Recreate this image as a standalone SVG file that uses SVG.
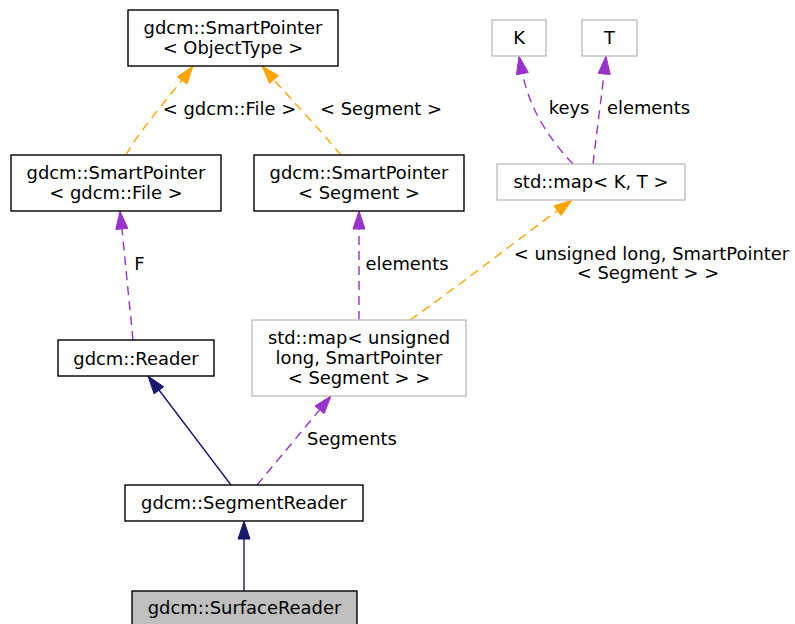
<svg xmlns="http://www.w3.org/2000/svg" width="795" height="624" viewBox="0 0 795 624">
<style>
text{font-family:"DejaVu Sans","Liberation Sans",sans-serif;font-size:17.9px;fill:#000;text-anchor:middle}
.n{fill:#fff;stroke:#000;stroke-width:1.4}
.g{fill:#fff;stroke:#bfbfbf;stroke-width:1.4}
.cur{fill:#bfbfbf;stroke:#000;stroke-width:1.4}
.e{fill:none;stroke-width:1.4}
.o{stroke:#ffa500;stroke-dasharray:9,6}
.p{stroke:#9a32cd;stroke-dasharray:9,6}
.b{stroke:#191970}
.ho{fill:#ffa500;stroke:#ffa500}
.hp{fill:#9a32cd;stroke:#9a32cd}
.hb{fill:#191970;stroke:#191970}
</style>
<rect width="795" height="624" fill="#fff"/>
<g id="connectors">
<path class="e o" d="M126,155 C140,130 165,102 182,80"/>
<polygon class="ho" points="193,66 187,84 177.4,76.8"/>
<text x="229.5" y="115">&lt; gdcm::File &gt;</text>
<path class="e o" d="M341,155 C320,130 292,100 274,80"/>
<polygon class="ho" points="262,66 278.5,75.5 269.5,83.5"/>
<text x="381" y="115">&lt; Segment &gt;</text>
<path class="e p" d="M133,340 C129,300 125,260 122,229"/>
<polygon class="hp" points="120,211 127.8,228.3 115.8,229.5"/>
<text x="139.5" y="270">F</text>
<path class="e p" d="M359,320 L359,229"/>
<polygon class="hp" points="359,211 365,229 353,229"/>
<text x="407" y="270">elements</text>
<path class="e o" d="M410,320 C460,285 520,238 557,211"/>
<polygon class="ho" points="572,200 561.1,215.5 553.9,205.9"/>
<text x="651.5" y="260">&lt; unsigned long, SmartPointer</text>
<text x="648" y="279">&lt; Segment &gt; &gt;</text>
<path class="e p" d="M573,164 C550,140 530,110 522.5,74"/>
<polygon class="hp" points="519,56 528.3,72.5 516.5,74.7"/>
<text x="569" y="114">keys</text>
<path class="e p" d="M593,164 C597,130 601,100 604,74"/>
<polygon class="hp" points="606,56 610.2,74.5 598.2,73.3"/>
<text x="648.5" y="114">elements</text>
<path class="e b" d="M231,485 L159,390"/>
<polygon class="hb" points="148,376 163.7,386.7 154.1,393.9"/>
<path class="e p" d="M257,485 L319.5,410"/>
<polygon class="hp" points="331,396 324.1,413.6 314.9,406"/>
<text x="352" y="445">Segments</text>
<path class="e b" d="M244,591 L244,539"/>
<polygon class="hb" points="244,521 250,539 238,539"/>
</g>
<g id="node_objecttype"><rect class="n" x="128" y="10" width="210" height="56"/><text x="233" y="34">gdcm::SmartPointer</text><text x="233" y="54">&lt; ObjectType &gt;</text></g>
<g id="node_sp_file"><rect class="n" x="11" y="155" width="210" height="56"/><text x="116" y="179">gdcm::SmartPointer</text><text x="116" y="199">&lt; gdcm::File &gt;</text></g>
<g id="node_sp_segment"><rect class="n" x="254" y="155" width="210" height="56"/><text x="359" y="179">gdcm::SmartPointer</text><text x="359" y="199">&lt; Segment &gt;</text></g>
<g id="node_k"><rect class="g" x="492" y="20" width="54" height="36"/><text x="519" y="44">K</text></g>
<g id="node_t"><rect class="g" x="582" y="20" width="55" height="36"/><text x="609.5" y="44">T</text></g>
<g id="node_map_kt"><rect class="g" x="497" y="164" width="188" height="36"/><text x="591" y="188">std::map&lt; K, T &gt;</text></g>
<g id="node_reader"><rect class="n" x="58" y="340" width="156" height="36"/><text x="136" y="365">gdcm::Reader</text></g>
<g id="node_map_seg"><rect class="g" x="252" y="320" width="214" height="76"/><text x="359" y="344">std::map&lt; unsigned</text><text x="359" y="364">long, SmartPointer</text><text x="359" y="384">&lt; Segment &gt; &gt;</text></g>
<g id="node_segmentreader"><rect class="n" x="125" y="485" width="238" height="36"/><text x="244" y="509">gdcm::SegmentReader</text></g>
<g id="node_surfacereader"><rect class="cur" x="132" y="591" width="225" height="36"/><text x="244.5" y="614">gdcm::SurfaceReader</text></g>
</svg>
